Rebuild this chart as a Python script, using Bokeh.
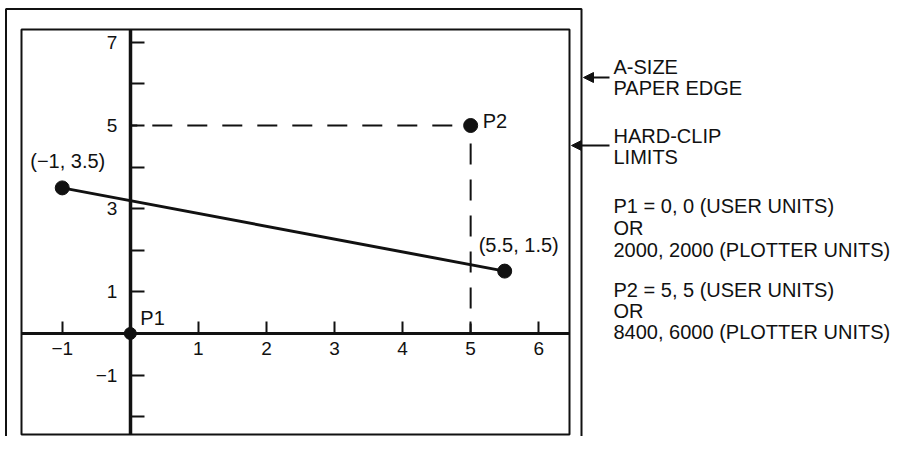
from bokeh.plotting import figure
from bokeh.models import Range1d, LinearAxis, FixedTicker, Arrow, NormalHead, ColumnDataSource
from bokeh.core.properties import value
from bokeh.embed import file_html
from bokeh.resources import INLINE

# ---------------- data ----------------
x_tick_values = [-1, 1, 2, 3, 4, 5, 6]
x_tick_labels = ["\u22121", "1", "2", "3", "4", "5", "6"]
y_tick_values = [-2, -1, 1, 2, 3, 4, 5, 6, 7]
y_tick_labels = ["", "\u22121", "1", "", "3", "", "5", "", "7"]

line_x = [-1, 5.5]
line_y = [3.5, 1.5]
line_labels = ["(\u22121, 3.5)", "(5.5, 1.5)"]

p1_x = [0]
p1_y = [0]
p2_x = [5]
p2_y = [5]
point_names = ["P1", "P2"]

note_lines = [
    "A-SIZE", "PAPER EDGE",
    "HARD-CLIP", "LIMITS",
    "P1 = 0, 0 (USER UNITS)", "OR", "2000, 2000 (PLOTTER UNITS)",
    "P2 = 5, 5 (USER UNITS)", "OR", "8400, 6000 (PLOTTER UNITS)",
]

# ---------------- layout helpers (pixel -> data) ----------------
X0, XS = 129.8, 68.07
Y0, YS = 333.0, 41.6
def X(px):
    return (px - X0) / XS
def Y(py):
    return (Y0 - py) / YS

W, H = 891, 436
FONT = value("Liberation Sans")
INK = "#111111"

p = figure(width=W, height=H,
           x_range=Range1d(X(0), X(W)), y_range=Range1d(Y(H), Y(0)),
           x_axis_type=None, y_axis_type=None,
           toolbar_location=None, output_backend="svg", min_border=0)
p.outline_line_color = None
p.background_fill_color = "white"
p.border_fill_color = "white"

# paper edge and hard-clip boxes
p.quad(left=[X(5.5)], right=[X(581)], top=[Y(8.5)], bottom=[Y(480)],
       fill_color=None, line_color=INK, line_width=2)
p.quad(left=[X(21)], right=[X(569)], top=[Y(29)], bottom=[Y(434)],
       fill_color=None, line_color=INK, line_width=2)

# axes crossing at origin
xaxis = LinearAxis(fixed_location=0,
                   ticker=FixedTicker(ticks=x_tick_values, minor_ticks=[]),
                   major_label_overrides=dict(zip(x_tick_values, x_tick_labels)),
                   bounds=(X(21), X(569)))
xaxis.axis_line_width = 3
xaxis.axis_line_color = INK
xaxis.major_tick_in = 12
xaxis.major_tick_out = 0
xaxis.major_tick_line_width = 2
xaxis.major_tick_line_color = INK
xaxis.minor_tick_line_color = None
xaxis.major_label_standoff = 8
xaxis.major_label_text_font = "Liberation Sans"
xaxis.major_label_text_font_size = "19px"
xaxis.major_label_text_color = INK
p.add_layout(xaxis, "below")

yaxis = LinearAxis(fixed_location=0,
                   ticker=FixedTicker(ticks=y_tick_values, minor_ticks=[]),
                   major_label_overrides=dict(zip(y_tick_values, y_tick_labels)),
                   bounds=(Y(434), Y(29)))
yaxis.axis_line_width = 3.5
yaxis.axis_line_color = INK
yaxis.major_tick_in = 14
yaxis.major_tick_out = 0
yaxis.major_tick_line_width = 2
yaxis.major_tick_line_color = INK
yaxis.minor_tick_line_color = None
yaxis.major_label_standoff = 13
yaxis.major_label_text_font = "Liberation Sans"
yaxis.major_label_text_font_size = "19px"
yaxis.major_label_text_color = INK
p.add_layout(yaxis, "left")

# dashed guides to P2
p.line([0, p2_x[0]], [p2_y[0], p2_y[0]], line_color=INK, line_width=2,
       line_dash="20 15", line_dash_offset=13)
p.line([p2_x[0], p2_x[0]], [p2_y[0], 0], line_color=INK, line_width=2,
       line_dash="21 15", line_dash_offset=18)

# the line and its end points
p.line(line_x, line_y, line_color=INK, line_width=3)
p.scatter(line_x, line_y, size=14, color=INK)
p.scatter(p1_x, p1_y, size=12, color=INK)
p.scatter(p2_x, p2_y, size=14, color=INK)

lab_src = ColumnDataSource(dict(
    x=line_x + p1_x + p2_x,
    y=line_y + p1_y + p2_y,
    t=line_labels + point_names,
    xo=[-32, -26, 10, 12],
    yo=[-27, -26, -16, -5],
))
p.text(x="x", y="y", text="t", x_offset="xo", y_offset="yo", source=lab_src,
       text_font=FONT, text_font_size="20px", text_color=INK,
       text_align="left", text_baseline="alphabetic")

# right-hand notes
note_baselines = [66, 87, 135, 156, 205, 227, 249, 289, 310, 331]
p.text(x=[X(613)] * len(note_lines), y=[Y(b) for b in note_baselines],
       text=note_lines, text_font=FONT, text_font_size="20px",
       text_color=INK, text_align="left", text_baseline="alphabetic")

for yy, xe in [(77, 583), (145, 571)]:
    p.add_layout(Arrow(end=NormalHead(size=10, fill_color=INK, line_color=INK),
                       x_start=X(609), y_start=Y(yy), x_end=X(xe), y_end=Y(yy),
                       line_color=INK, line_width=2))

open("out.html", "w").write(file_html(p, INLINE))
